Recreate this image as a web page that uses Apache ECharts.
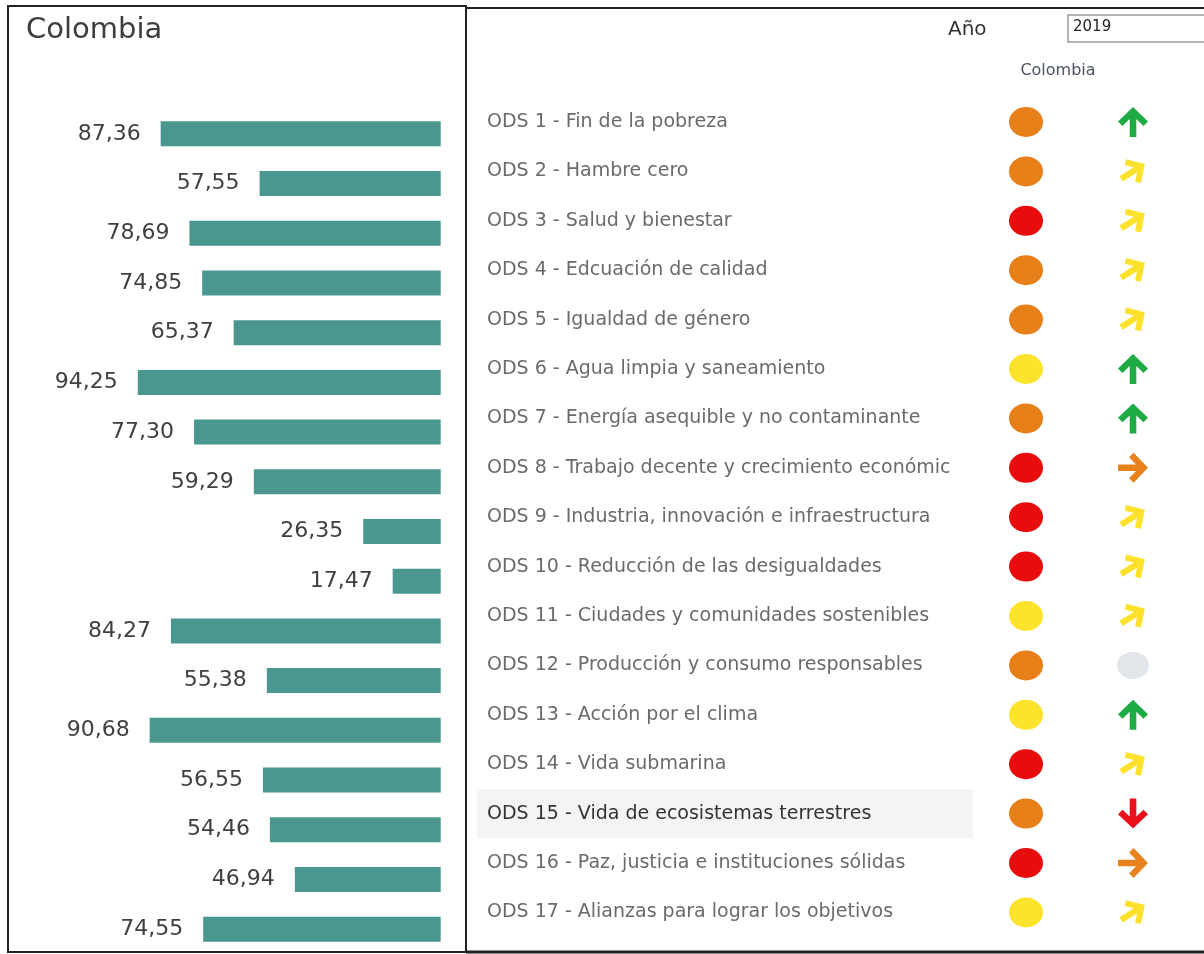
<!DOCTYPE html>
<html><head><meta charset="utf-8">
<script src="https://cdn.jsdelivr.net/npm/echarts@6/dist/echarts.min.js"></script>
<style>html,body{margin:0;padding:0;background:#fff;overflow:hidden}#c{width:1204px;height:954px}</style>
</head><body><div id="c"></div>
<script>
const country = 'Colombia';
const yearLabel = 'Año';
const year = '2019';
const categories = [
  'ODS 1 - Fin de la pobreza',
  'ODS 2 - Hambre cero',
  'ODS 3 - Salud y bienestar',
  'ODS 4 - Edcuación de calidad',
  'ODS 5 - Igualdad de género',
  'ODS 6 - Agua limpia y saneamiento',
  'ODS 7 - Energía asequible y no contaminante',
  'ODS 8 - Trabajo decente y crecimiento económico',
  'ODS 9 - Industria, innovación e infraestructura',
  'ODS 10 - Reducción de las desigualdades',
  'ODS 11 - Ciudades y comunidades sostenibles',
  'ODS 12 - Producción y consumo responsables',
  'ODS 13 - Acción por el clima',
  'ODS 14 - Vida submarina',
  'ODS 15 - Vida de ecosistemas terrestres',
  'ODS 16 - Paz, justicia e instituciones sólidas',
  'ODS 17 - Alianzas para lograr los objetivos'
];
const values = [87.36, 57.55, 78.69, 74.85, 65.37, 94.25, 77.30, 59.29, 26.35, 17.47, 84.27, 55.38, 90.68, 56.55, 54.46, 46.94, 74.55];
const status = ['naranja','naranja','rojo','naranja','naranja','amarillo','naranja','rojo','rojo','rojo','amarillo','naranja','amarillo','rojo','naranja','rojo','amarillo'];
const trend = ['sube','moderado','moderado','moderado','moderado','sube','sube','estancado','moderado','moderado','moderado','sin dato','sube','moderado','baja','estancado','moderado'];
const columns = ['Estado', 'Tendencia'];
const highlighted = 'ODS 15 - Vida de ecosistemas terrestres';

const statusColor = { naranja: '#e8801a', rojo: '#e80c0c', amarillo: '#fde32b' };
const arrow = 'path://M50 0 L100 48 L85 63 L61 40 L61 100 L39 100 L39 40 L15 63 L0 48 Z';
const trendStyle = {
  'sube':      { symbol: arrow, rotate: 0,   color: '#1fab43', size: [30, 30] },
  'moderado':  { symbol: arrow, rotate: -58, color: '#fde12a', size: [28, 28] },
  'estancado': { symbol: arrow, rotate: -90, color: '#e8821c', size: [30, 30] },
  'baja':      { symbol: arrow, rotate: 180, color: '#e8101a', size: [30, 30] },
  'sin dato':  { symbol: 'circle', rotate: 0, color: '#e2e6ea', size: [32, 27] }
};

const chart = echarts.init(document.getElementById('c'));
const FONT = 'DejaVu Sans';

const option = {
  animation: false,
  backgroundColor: '#fff',
  textStyle: { fontFamily: FONT },
  grid: [
    { left: 118.7, width: 322, top: 109, height: 846.6 },
    { left: 972.5, width: 214, top: 97.3, height: 839.8 }
  ],
  xAxis: [
    { type: 'value', gridIndex: 0, inverse: true, min: 3, max: 100, show: false },
    { type: 'category', gridIndex: 1, data: columns, show: false }
  ],
  yAxis: [
    { type: 'category', gridIndex: 0, data: categories, inverse: true, show: false },
    { type: 'category', gridIndex: 1, data: categories, inverse: true,
      axisLine: { show: false }, axisTick: { show: false }, splitLine: { show: false },
      axisLabel: {
        align: 'left', margin: 485.5, fontSize: 19, fontFamily: FONT,
        width: 470, overflow: 'truncate', ellipsis: '',
        color: v => v === highlighted ? '#333333' : '#6a6a6a'
      },
      z: 5
    }
  ],
  series: [
    {
      type: 'bar', xAxisIndex: 0, yAxisIndex: 0, data: values, barWidth: 25,
      itemStyle: { color: '#4a9790' },
      label: {
        show: true, position: 'left', distance: 20,
        fontFamily: FONT, fontSize: 22, color: '#404040',
        formatter: p => p.value.toFixed(2).replace('.', ',')
      }
    },
    {
      type: 'scatter', xAxisIndex: 1, yAxisIndex: 1, symbol: 'circle', symbolSize: [34, 30],
      itemStyle: { opacity: 1 },
      data: categories.map((c, i) => ({ value: [columns[0], c], itemStyle: { color: statusColor[status[i]], opacity: 1 } }))
    },
    {
      type: 'scatter', xAxisIndex: 1, yAxisIndex: 1,
      itemStyle: { opacity: 1 },
      data: categories.map((c, i) => {
        const s = trendStyle[trend[i]];
        return { value: [columns[1], c], symbol: s.symbol, symbolRotate: s.rotate, symbolSize: s.size, itemStyle: { color: s.color, opacity: 1 } };
      })
    }
  ],
  graphic: [
    { type: 'text', left: 26, top: 16, style: { text: country, fontFamily: FONT, fontSize: 29, fill: '#3e3e3e' } },
    { type: 'text', left: 948, top: 20, style: { text: yearLabel, fontFamily: FONT, fontSize: 20, fill: '#333' } },
    { type: 'rect', shape: { x: 1068, y: 15, width: 160, height: 27 }, style: { fill: '#fff', stroke: '#9a9a9a', lineWidth: 1.5 } },
    { type: 'text', left: 1073, top: 20, style: { text: year, fontFamily: FONT, fontSize: 15, fill: '#222' } },
    { type: 'text', x: 1058, y: 71, style: { text: country, fontFamily: FONT, fontSize: 16, fill: '#4a5160', align: 'center', verticalAlign: 'middle' } },
    { type: 'rect', shape: { x: 8, y: 6, width: 458, height: 946 }, style: { fill: 'none', stroke: '#222', lineWidth: 2 } },
    { type: 'line', shape: { x1: 466, y1: 8, x2: 1204, y2: 8 }, style: { stroke: '#222', lineWidth: 2 } },
    { type: 'line', shape: { x1: 466, y1: 952, x2: 1204, y2: 952 }, style: { stroke: '#222', lineWidth: 3 } }
  ]
};
chart.setOption(option);

// highlight band behind the hovered row, positioned from the category axis
const yc = chart.convertToPixel({ yAxisIndex: 1 }, highlighted);
const band = 839.8 / categories.length;
chart.setOption({
  graphic: option.graphic.concat([
    { type: 'rect', z: -1, shape: { x: 477, y: yc - band / 2, width: 496, height: band }, style: { fill: '#f4f4f4' } }
  ])
});
</script>
</body></html>
